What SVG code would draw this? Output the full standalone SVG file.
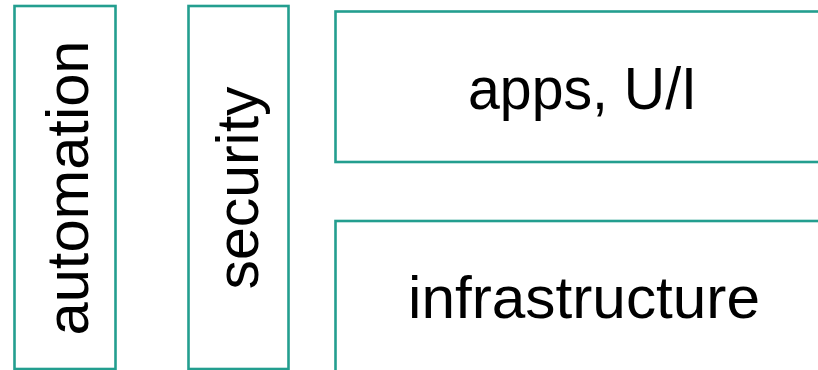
<svg xmlns="http://www.w3.org/2000/svg" width="818" height="370" viewBox="0 0 818 370">
<style>
.box{fill:#ffffff;stroke:#239E8F;stroke-width:2.6}
.lbl{font-family:"Liberation Sans",Arial,sans-serif;font-size:59px;fill:#000000;text-anchor:middle}
</style>
<rect width="818" height="370" fill="#ffffff"/>
<g id="connectors"></g>
<g id="automation">
<rect class="box" x="14.5" y="6" width="101" height="363"/>
<text class="lbl" transform="translate(88,188) rotate(-90)" textLength="295" lengthAdjust="spacingAndGlyphs">automation</text>
</g>
<g id="security">
<rect class="box" x="188.5" y="6" width="100" height="363"/>
<text class="lbl" transform="translate(258,188) rotate(-90)" textLength="203" lengthAdjust="spacingAndGlyphs">security</text>
</g>
<g id="apps">
<rect class="box" x="335.5" y="11.5" width="500" height="150.5"/>
<text class="lbl" x="582.5" y="109" textLength="229" lengthAdjust="spacingAndGlyphs">apps, U/I</text>
</g>
<g id="infrastructure">
<rect class="box" x="335.5" y="221" width="500" height="200"/>
<text class="lbl" x="584" y="318" textLength="352" lengthAdjust="spacingAndGlyphs">infrastructure</text>
</g>
</svg>
